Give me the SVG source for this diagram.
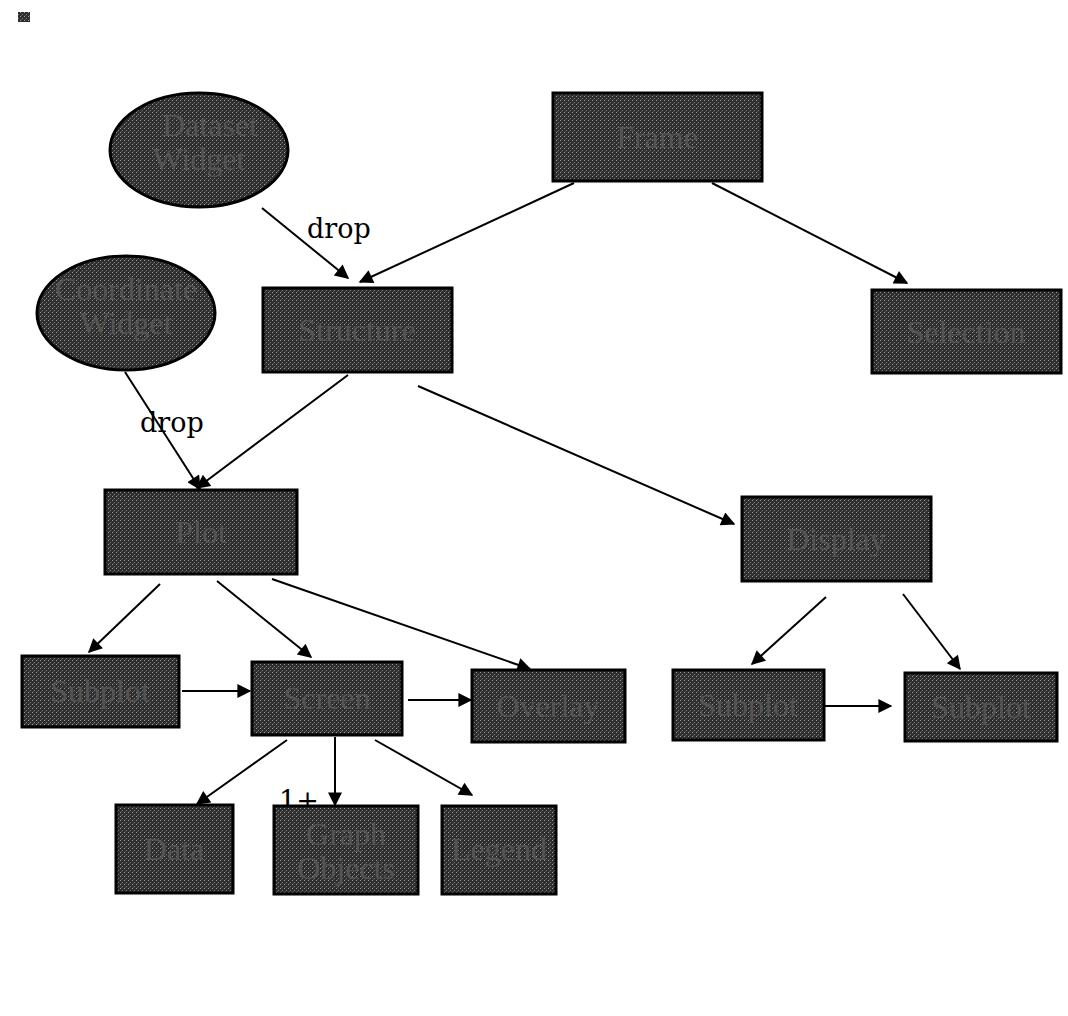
<svg xmlns="http://www.w3.org/2000/svg" width="1068" height="1016" viewBox="0 0 1068 1016">
<defs>
<pattern id="dith" width="4" height="4" patternUnits="userSpaceOnUse">
<rect width="4" height="4" fill="#2e2e2e"/>
<rect x="0" y="0" width="1" height="1" fill="#9a9a9a"/>
<rect x="2" y="2" width="1" height="1" fill="#7a7a7a"/>
<rect x="1" y="3" width="1" height="1" fill="#555"/>
</pattern>
<marker id="ah" viewBox="0 0 10 10" refX="9" refY="5" markerWidth="18" markerHeight="14" markerUnits="userSpaceOnUse" orient="auto">
<path d="M0,0 L10,5 L0,10 Z" fill="#000"/>
</marker>
</defs>
<style>
.n{fill:url(#dith);stroke:#000;stroke-width:3}
.t{font-family:"Liberation Serif",serif;font-size:32px;fill:#545454;text-anchor:middle}
.l{font-family:"DejaVu Serif",serif;font-size:27px;fill:#000}
.c{stroke:#000;stroke-width:2;fill:none;marker-end:url(#ah)}
</style>
<rect width="1068" height="1016" fill="#fff"/>
<g id="icon"><rect x="18" y="12" width="12" height="10" fill="url(#dith)"/></g>
<g id="connectors">
<line class="c" x1="262" y1="208" x2="348" y2="278"/>
<line class="c" x1="574" y1="183" x2="360" y2="282"/>
<line class="c" x1="712" y1="183" x2="907" y2="283"/>
<line class="c" x1="125" y1="372" x2="200" y2="489"/>
<line class="c" x1="348" y1="375" x2="197" y2="488"/>
<line class="c" x1="418" y1="386" x2="734" y2="524"/>
<line class="c" x1="160" y1="584" x2="89" y2="652"/>
<line class="c" x1="217" y1="581" x2="311" y2="657"/>
<line class="c" x1="272" y1="579" x2="530" y2="669"/>
<line class="c" x1="182" y1="691" x2="250" y2="691"/>
<line class="c" x1="408" y1="700" x2="471" y2="700"/>
<line class="c" x1="826" y1="597" x2="752" y2="664"/>
<line class="c" x1="903" y1="594" x2="960" y2="669"/>
<line class="c" x1="825" y1="706" x2="891" y2="706"/>
<line class="c" x1="287" y1="740" x2="197" y2="804"/>
<line class="c" x1="335" y1="737" x2="335" y2="805"/>
<line class="c" x1="375" y1="740" x2="472" y2="795"/>
<text class="l" x="307" y="238">drop</text>
<text class="l" x="140" y="432">drop</text>
<text class="l" x="279" y="810">1+</text>
</g>
<g id="dataset"><ellipse class="n" cx="199" cy="150" rx="89" ry="57"/><text class="t" x="210" y="136">Dataset</text><text class="t" x="199" y="170">Widget</text></g>
<g id="frame"><rect class="n" x="553" y="93" width="209" height="88"/><text class="t" x="657" y="148">Frame</text></g>
<g id="coord"><ellipse class="n" cx="126" cy="313" rx="89" ry="57"/><text class="t" x="126" y="300">Coordinate</text><text class="t" x="126" y="334">Widget</text></g>
<g id="structure"><rect class="n" x="263" y="288" width="189" height="84"/><text class="t" x="357" y="341">Structure</text></g>
<g id="selection"><rect class="n" x="872" y="290" width="189" height="83"/><text class="t" x="966" y="343">Selection</text></g>
<g id="plot"><rect class="n" x="105" y="490" width="192" height="84"/><text class="t" x="201" y="543">Plot</text></g>
<g id="display"><rect class="n" x="742" y="497" width="189" height="84"/><text class="t" x="836" y="550">Display</text></g>
<g id="subplotL"><rect class="n" x="22" y="656" width="157" height="71"/><text class="t" x="100" y="702">Subplot</text></g>
<g id="screen"><rect class="n" x="252" y="662" width="150" height="73"/><text class="t" x="327" y="709">Screen</text></g>
<g id="overlay"><rect class="n" x="472" y="670" width="153" height="72"/><text class="t" x="548" y="717">Overlay</text></g>
<g id="subplotR1"><rect class="n" x="673" y="670" width="151" height="70"/><text class="t" x="748" y="716">Subplot</text></g>
<g id="subplotR2"><rect class="n" x="905" y="673" width="152" height="68"/><text class="t" x="981" y="718">Subplot</text></g>
<g id="data"><rect class="n" x="116" y="805" width="117" height="88"/><text class="t" x="174" y="860">Data</text></g>
<g id="graphobj"><rect class="n" x="274" y="806" width="144" height="88"/><text class="t" x="346" y="845">Graph</text><text class="t" x="346" y="879">Objects</text></g>
<g id="legend"><rect class="n" x="442" y="806" width="114" height="88"/><text class="t" x="499" y="860">Legend</text></g>
</svg>
